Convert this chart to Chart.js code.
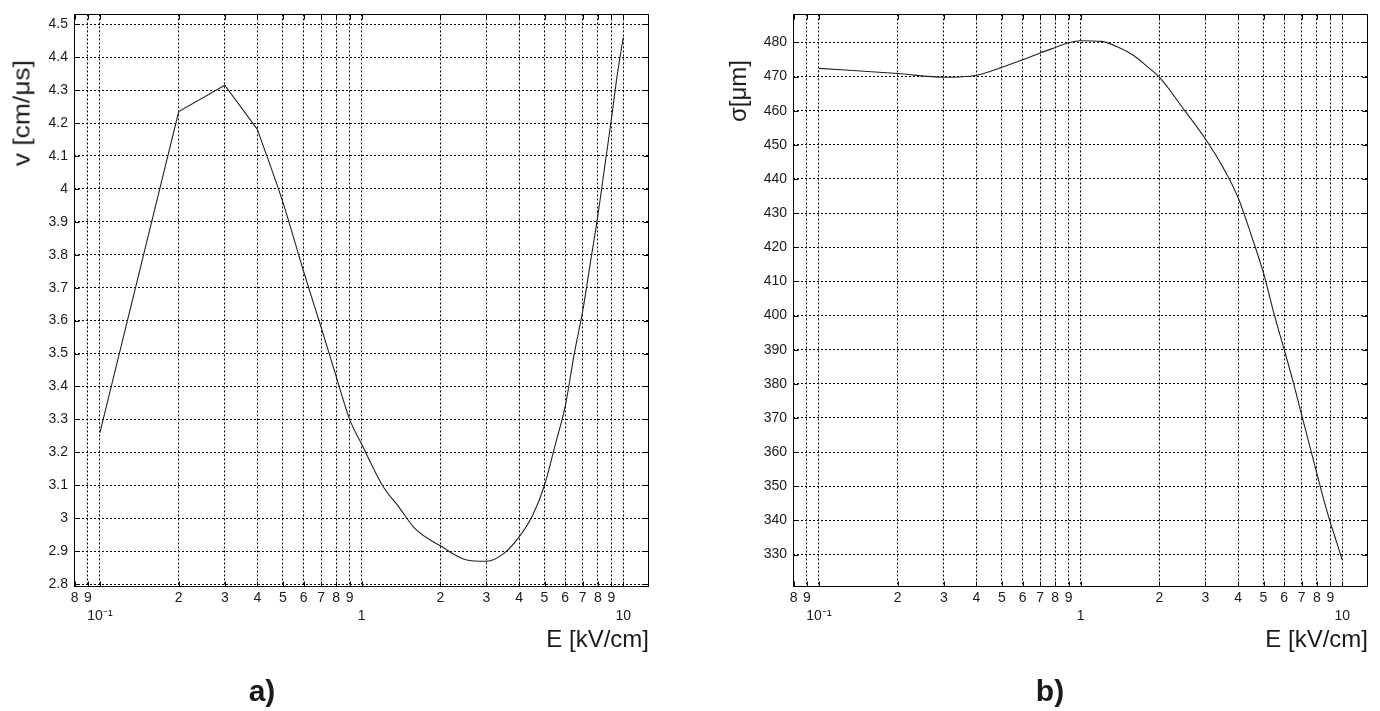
<!DOCTYPE html>
<html>
<head>
<meta charset="utf-8">
<script src="https://cdn.jsdelivr.net/npm/chart.js@4.4.0/dist/chart.umd.min.js"></script>
<style>
  html, body { margin: 0; padding: 0; background: #fff; }
  body { width: 1380px; height: 711px; position: relative; overflow: hidden;
         font-family: "Liberation Sans", Arial, Helvetica, sans-serif; color: #1a1a1a; }
  canvas { position: absolute; top: 0; }
  #chartA { left: 0; }
  #chartB { left: 690px; }
  .y-title { position: absolute; top: 60px; width: 0; height: 0; }
  .y-title span { position: absolute; right: 0; top: 0; transform-origin: right top;
                  transform: rotate(-90deg); white-space: nowrap; font-size: 24px; line-height: 24px; }
  .panel-label { position: absolute; top: 674px; width: 60px; margin-left: -30px; text-align: center;
                 font-weight: bold; font-size: 30px; line-height: 34px; }
</style>
</head>
<body>
<canvas id="chartA" width="690" height="711"></canvas>
<canvas id="chartB" width="690" height="711"></canvas>
<div class="y-title" style="left: 9px;"><span style="transform: rotate(-90deg) scaleX(1.1);">v [cm/μs]</span></div>
<div class="y-title" style="left: 726px;"><span>σ[μm]</span></div>
<div class="panel-label" style="left: 262px;">a)</div>
<div class="panel-label" style="left: 1050px;">b)</div>
<script>
// a) drift velocity vs field
const fieldA = [0.1, 0.2, 0.3, 0.4, 0.5, 0.6, 0.7, 0.8, 0.9, 1.0, 1.2, 1.4, 1.6, 2.0, 2.5, 3.0,
                3.5, 4.0, 4.5, 5.0, 5.5, 6.0, 6.5, 7.0, 7.5, 8.0, 8.5, 9.0, 9.5, 10];
const velocity = [3.26, 4.235, 4.315, 4.18, 3.96, 3.75, 3.58, 3.43, 3.30, 3.225, 3.10, 3.03, 2.968, 2.916, 2.874, 2.869,
                  2.893, 2.943, 3.008, 3.10, 3.224, 3.34, 3.50, 3.63, 3.78, 3.92, 4.07, 4.21, 4.35, 4.46];
// first points are joined by straight segments, the rest is a smooth curve
const straightEnd = 3;

// b) resolution vs field
const fieldB = [0.1, 0.2, 0.3, 0.4, 0.5, 0.6, 0.7, 0.8, 0.9, 1.0, 1.2, 1.4, 1.6, 1.8, 2.0, 2.5, 3.0,
                3.5, 4.0, 4.5, 5.0, 5.5, 6.0, 6.5, 7.0, 7.5, 8.0, 8.5, 9.0, 9.5, 10];
const sigma = [472.4, 470.9, 469.8, 470.4, 472.7, 474.9, 476.9, 478.5, 479.9, 480.5, 480.3, 478.5, 476.1, 472.9, 469.8, 460.0, 451.7,
               443.4, 434.5, 423.3, 412.4, 400.2, 390.0, 380.4, 370.8, 362.0, 353.7, 346.0, 339.4, 333.8, 328.4];

// axis ticks
const xTickValues = [0.08, 0.09, 0.1, 0.2, 0.3, 0.4, 0.5, 0.6, 0.7, 0.8, 0.9,
                     1, 2, 3, 4, 5, 6, 7, 8, 9, 10];
const xTickLabels = ['8', '9', ['', '10⁻¹'], '2', '3', '4', '5', '6', '7', '8', '9',
                     ['', '1'], '2', '3', '4', '5', '6', '7', '8', '9', ['', '10']];
const velocityTicks = [2.8, 2.9, 3.0, 3.1, 3.2, 3.3, 3.4, 3.5, 3.6, 3.7, 3.8, 3.9, 4.0, 4.1, 4.2, 4.3, 4.4, 4.5];
const sigmaTicks = [330, 340, 350, 360, 370, 380, 390, 400, 410, 420, 430, 440, 450, 460, 470, 480];

Chart.defaults.font.family = '"Liberation Sans", Arial, Helvetica, sans-serif';
Chart.defaults.color = '#1a1a1a';

// solid frame plus short inward tick marks, like the original plot
const framePlugin = {
    id: 'frame',
    afterDraw(chart) {
        const { ctx, chartArea: a, scales } = chart;
        const l = Math.round(a.left) + 0.5, r = Math.round(a.right) - 0.5;
        const t = Math.round(a.top) + 0.5, b = Math.round(a.bottom) - 0.5;
        ctx.save();
        ctx.strokeStyle = '#000';
        ctx.lineWidth = 1;
        ctx.beginPath();
        scales.x.ticks.forEach(tk => {
            const px = Math.round(scales.x.getPixelForValue(tk.value)) + 0.5;
            ctx.moveTo(px, b); ctx.lineTo(px, b - 5);
            ctx.moveTo(px, t); ctx.lineTo(px, t + 5);
        });
        scales.y.ticks.forEach(tk => {
            const py = Math.round(scales.y.getPixelForValue(tk.value)) + 0.5;
            ctx.moveTo(l, py); ctx.lineTo(l + 5, py);
            ctx.moveTo(r, py); ctx.lineTo(r - 5, py);
        });
        ctx.stroke();
        ctx.strokeRect(l, t, r - l, b - t);
        ctx.restore();
    }
};

function curve(xs, ys, from, to, smooth) {
    const points = [];
    for (let i = from; i <= to; i++) points.push({ x: xs[i], y: ys[i] });
    return {
        data: points,
        borderColor: '#222',
        borderWidth: 1.1,
        pointRadius: 0,
        tension: 0,
        cubicInterpolationMode: smooth ? 'monotone' : 'default',
        fill: false
    };
}

function makeChart(canvasId, datasets, yTicks, yMin, yMax, yFormat, yAxisWidth, padRight) {
    return new Chart(document.getElementById(canvasId), {
        type: 'line',
        data: { datasets: datasets },
        options: {
            responsive: false,
            animation: false,
            layout: { padding: { top: 10, right: padRight, bottom: 0, left: 0 } },
            plugins: { legend: { display: false }, tooltip: { enabled: false } },
            scales: {
                x: {
                    type: 'logarithmic',
                    min: 0.0796,
                    max: 12.54,
                    afterBuildTicks: s => { s.ticks = xTickValues.map(v => ({ value: v })); },
                    afterFit: s => { s.height = 124; },
                    grid: { color: '#000', lineWidth: 1, drawTicks: false },
                    border: { display: false, dash: [2, 2] },
                    ticks: {
                        autoSkip: false,
                        maxRotation: 0,
                        minRotation: 0,
                        padding: 2,
                        font: { size: 14, lineHeight: 1.3 },
                        callback: (v, i) => xTickLabels[i]
                    },
                    title: {
                        display: true,
                        text: 'E [kV/cm]',
                        align: 'end',
                        font: { size: 24 },
                        padding: { top: 0, bottom: 56 }
                    }
                },
                y: {
                    type: 'linear',
                    min: yMin,
                    max: yMax,
                    afterBuildTicks: s => { s.ticks = yTicks.map(v => ({ value: v })); },
                    afterFit: s => { s.width = yAxisWidth; },
                    grid: { color: '#000', lineWidth: 1, drawTicks: false },
                    border: { display: false, dash: [2, 2] },
                    ticks: {
                        padding: 6,
                        font: { size: 14 },
                        callback: v => yFormat(v)
                    }
                }
            }
        },
        plugins: [framePlugin]
    });
}

makeChart('chartA',
          [curve(fieldA, velocity, 0, straightEnd, false),
           curve(fieldA, velocity, straightEnd, fieldA.length - 1, true)],
          velocityTicks, 2.791, 4.530, v => String(Number(v.toFixed(1))), 74, 41);
makeChart('chartB',
          [curve(fieldB, sigma, 0, fieldB.length - 1, true)],
          sigmaTicks, 320.5, 488.2, v => String(Math.round(v)), 103, 12);
</script>
</body>
</html>
